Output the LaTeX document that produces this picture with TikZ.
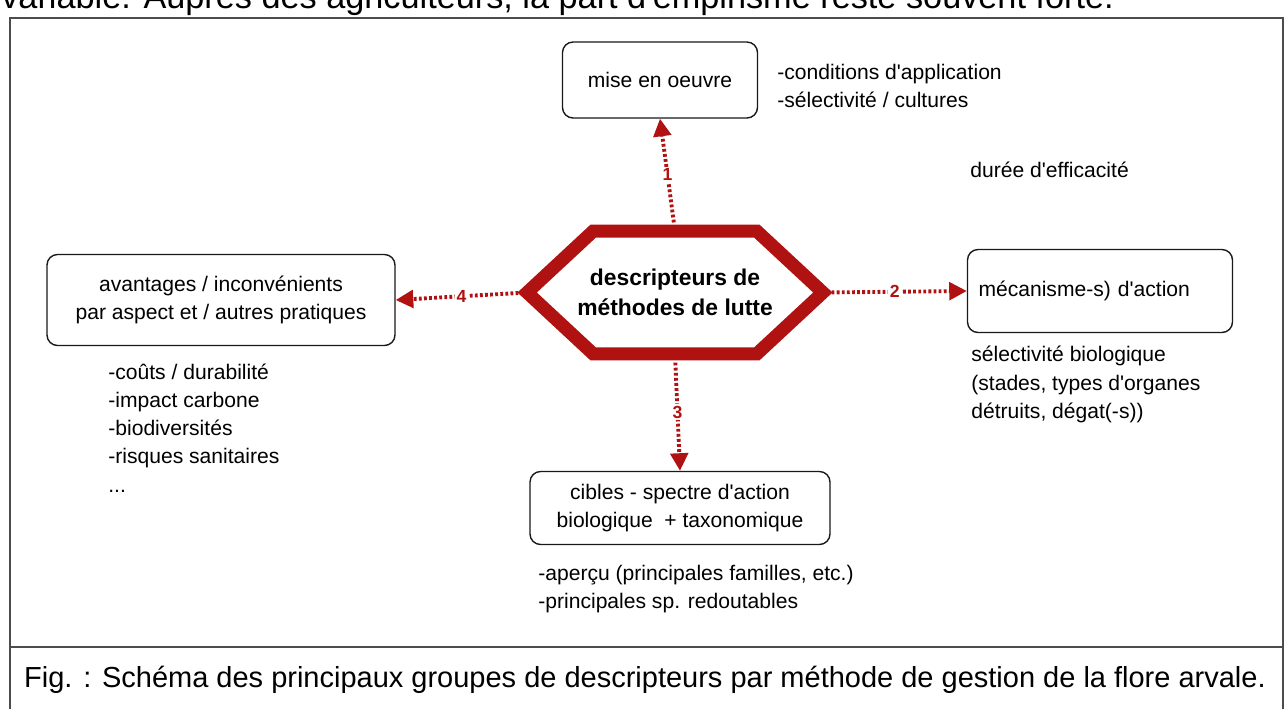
\documentclass[tikz,border=0pt]{standalone}
\usepackage{fontspec}
\setmainfont{Liberation Sans}[Ligatures=TeXOff]
\usetikzlibrary{positioning, arrows.meta, calc}
\definecolor{lutte}{RGB}{176,18,18}

\begin{document}
\begin{tikzpicture}[
  box/.style={
    rectangle, draw=black!90, rounded corners=6pt, line width=0.8pt,
    align=center, font=\fontsize{12}{16}\selectfont,
    inner sep=4pt,
  },
  note/.style={
    inner sep=0pt, align=left, anchor=west,
    font=\fontsize{12}{16}\selectfont,
  },
  link/.style={-{Triangle[length=10pt,width=10pt]}, lutte, line width=2.2pt,
    dash pattern=on 1.6pt off 1.3pt, shorten <=5pt},
  num/.style={font=\fontsize{10}{12}\selectfont\bfseries, text=lutte,
    fill=white, inner sep=1pt},
  frame/.style={draw=black!70, line width=1pt},
]
\useasboundingbox (0,0) rectangle (25.68,-14.16);
\clip (0,0) rectangle (25.68,-14.16);

% cut-off line of text above the figure, and the frame
\node[font=\fontsize{19.5}{23}\selectfont, anchor=base west, inner sep=0pt] (intro) at (0.02,-0.16)
  {variable. Auprès des agriculteurs, la part d'empirisme reste souvent forte.};
\draw[frame] (0.2,-14.3) -- (0.2,-0.36) -- (25.66,-0.36) -- (25.66,-14.3);
\draw[frame] (0.2,-12.94) -- (25.66,-12.94);

% central hexagon
\node[minimum width=5.9cm, minimum height=2.44cm, inner sep=0pt, align=center,
  font=\fontsize{13}{17}\selectfont\bfseries] (hex) at (13.5,-5.85)
  {descripteurs de\\méthodes de lutte};
\draw[lutte, line width=7.5pt, line join=miter]
  (hex.west) -- ($(hex.north west)+(1.32,0)$) -- ($(hex.north east)+(-1.32,0)$)
  -- (hex.east) -- ($(hex.south east)+(-1.32,0)$) -- ($(hex.south west)+(1.32,0)$) -- cycle;

% the four groups
\node[box, minimum width=3.9cm, minimum height=1.52cm] (mise) at (13.2,-1.6) {mise en oeuvre};
\node[box, minimum width=6.96cm, minimum height=1.82cm] (avantages) at (4.42,-6.0)
  {avantages / inconvénients\\par aspect et / autres pratiques};
\node[box, text width=4.86cm, align=left, inner xsep=0.22cm, minimum height=1.66cm] (mecanisme) at (22.0,-5.82)
  {mécanisme-s) d'action};
\node[box, minimum width=6cm, minimum height=1.46cm] (cibles) at (13.6,-10.16)
  {cibles - spectre d'action\\biologique \ + taxonomique};

\draw[link] (hex.north) -- node[num, midway] {1} (mise.south);
\draw[link] (hex.east)  -- node[num, midway] {2} (mecanisme.west);
\draw[link] (hex.south) -- node[num, midway] {3} (cibles.north);
\draw[link] (hex.west)  -- node[num, midway] {4} (avantages.east);

% details beside each group
\node[note] (miseNotes) at (15.54,-1.72) {-conditions d'application\\-sélectivité / cultures};
\node[note] (duree) at (19.4,-3.4) {durée d'efficacité};
\node[note] (mecaNotes) at (19.42,-7.69)
  {sélectivité biologique\\(stades, types d'organes\\détruits, dégat(-s))};
\node[note] (avantNotes) at (2.16,-8.56)
  {-coûts / durabilité\\-impact carbone\\-biodiversités\\-risques sanitaires\\...};
\node[note] (ciblesNotes) at (10.76,-11.78)
  {-aperçu (principales familles, etc.)\\-principales sp. redoutables};

\node[font=\fontsize{16.5}{20}\selectfont, inner sep=0pt] (caption) at (12.9,-13.6)
  {Fig. : Schéma des principaux groupes de descripteurs par méthode de gestion de la flore arvale.};
\end{tikzpicture}
\end{document}
